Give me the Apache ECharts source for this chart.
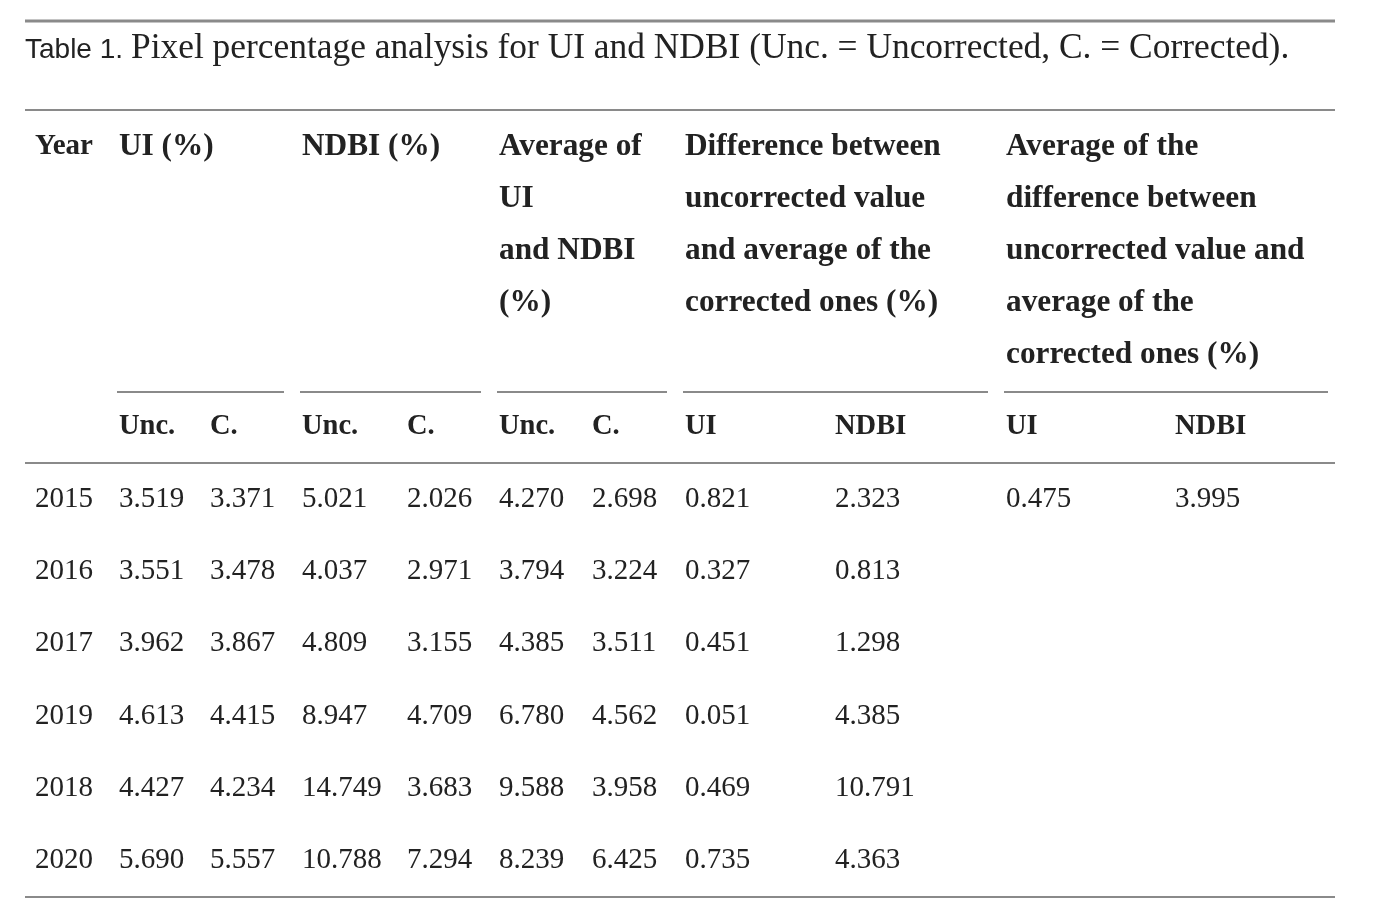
<!DOCTYPE html>
<html>
<head>
<meta charset="utf-8">
<title>Table 1. Pixel percentage analysis for UI and NDBI</title>
<script src="https://cdn.jsdelivr.net/npm/echarts@6/dist/echarts.min.js"></script>
<style>
  html, body { margin: 0; padding: 0; background: #fff; }
  #chart { width: 1378px; height: 918px; }
</style>
</head>
<body>
<div id="chart"></div>
<script>
	// 数据
	const years = ['2015', '2016', '2017', '2019', '2018', '2020'];
	const uiUnc = [3.519, 3.551, 3.962, 4.613, 4.427, 5.690];
	const uiCor = [3.371, 3.478, 3.867, 4.415, 4.234, 5.557];
	const ndbiUnc = [5.021, 4.037, 4.809, 8.947, 14.749, 10.788];
	const ndbiCor = [2.026, 2.971, 3.155, 4.709, 3.683, 7.294];
	const avgUnc = [4.270, 3.794, 4.385, 6.780, 9.588, 8.239];
	const avgCor = [2.698, 3.224, 3.511, 4.562, 3.958, 6.425];
	const diffUi = [0.821, 0.327, 0.451, 0.051, 0.469, 0.735];
	const diffNdbi = [2.323, 0.813, 1.298, 4.385, 10.791, 4.363];
	const avgDiffUi = [0.475];
	const avgDiffNdbi = [3.995];

	const subHeads = ['Unc.', 'C.', 'Unc.', 'C.', 'Unc.', 'C.', 'UI', 'NDBI', 'UI', 'NDBI'];
	const groupHeads = [
		['UI (%)'],
		['NDBI (%)'],
		['Average of', 'UI', 'and NDBI', '(%)'],
		['Difference between', 'uncorrected value', 'and average of the', 'corrected ones (%)'],
		['Average of the', 'difference between', 'uncorrected value and', 'average of the', 'corrected ones (%)']
	];
	const columns = [uiUnc, uiCor, ndbiUnc, ndbiCor, avgUnc, avgCor, diffUi, diffNdbi, avgDiffUi, avgDiffNdbi];

	// 版式
	const colX = [119, 210, 302, 407, 499, 592, 685, 835, 1006, 1175];
	const groupX = [119, 302, 499, 685, 1006];
	const ruleSegs = [[117, 284], [300, 481], [497, 667], [683, 988], [1004, 1328]];
	const serif = '"Liberation Serif", "DejaVu Serif", serif';
	const ink = '#222';
	const ruleColor = '#8a8a8a';

	const chart = echarts.init(document.getElementById('chart'));

	const graphics = [];
	const hline = (x1, x2, y, w) => graphics.push({
		type: 'line', shape: { x1: x1, y1: y, x2: x2, y2: y },
		style: { stroke: ruleColor, lineWidth: w }
	});
	const text = (str, x, y, size, bold, family) => graphics.push({
		type: 'text', x: x, y: y,
		style: {
			text: str, fill: ink, font: (bold ? 'bold ' : '') + size + 'px ' + (family || serif),
			textAlign: 'left', textVerticalAlign: 'middle'
		}
	});

	// 标题与表线
	hline(25, 1335, 21, 3);
	text('Table 1.', 25, 50, 28, false, '"Liberation Sans", sans-serif');
	text('Pixel percentage analysis for UI and NDBI (Unc. = Uncorrected, C. = Corrected).', 131, 49, 35.4, false);
	hline(25, 1335, 110, 2);
	text('Year', 35, 147, 29, true);
	groupHeads.forEach((lines, g) => {
		lines.forEach((s, k) => text(s, groupX[g], 147 + k * 52, 31.3, true));
	});
	ruleSegs.forEach(s => hline(s[0], s[1], 392, 2));
	subHeads.forEach((s, i) => text(s, colX[i], 427, 28.5, true));
	hline(25, 1335, 463, 2);
	hline(25, 1335, 897, 2);

	const series = columns.map((vals, c) => ({
		type: 'scatter',
		symbolSize: 0,
		silent: true,
		itemStyle: { opacity: 1 },
		data: vals.map((v, r) => [colX[c], r, v]),
		label: {
			show: true,
			position: 'right',
			distance: 0,
			formatter: p => p.data[2].toFixed(3),
			fontFamily: serif,
			fontSize: 29,
			color: ink,
			opacity: 1
		}
	}));

	const option = {
		animation: false,
		grid: { left: 35, right: 0, top: 463, bottom: 21 },
		xAxis: {
			type: 'value', min: 35, max: 1378,
			show: false
		},
		yAxis: {
			type: 'category',
			data: years,
			inverse: true,
			axisLine: { show: false },
			axisTick: { show: false },
			splitLine: { show: false },
			axisLabel: {
				inside: true, margin: 0, align: 'left',
				fontFamily: serif, fontSize: 29, color: ink
			}
		},
		graphic: graphics,
		series: series
	};

	chart.setOption(option);
</script>
</body>
</html>
